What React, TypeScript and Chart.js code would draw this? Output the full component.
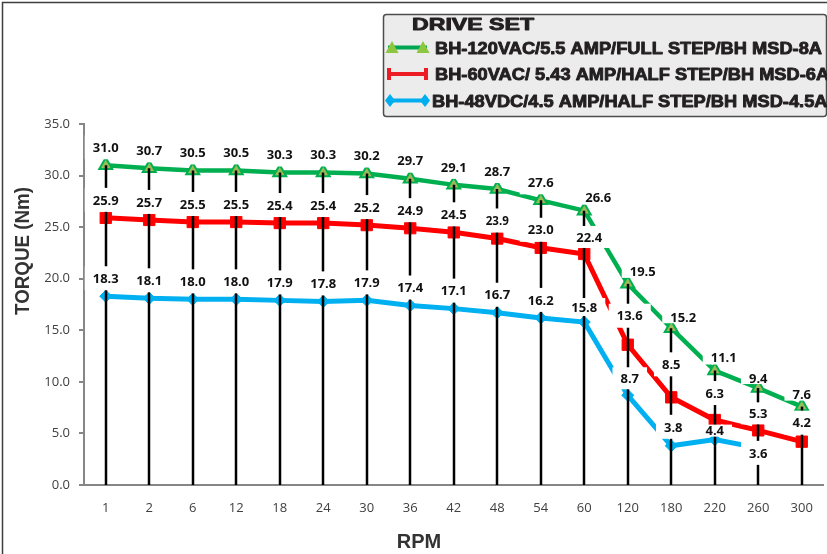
import React, { useEffect, useRef } from 'react';
import { Chart, registerables } from 'chart.js';

Chart.register(...registerables);

// ---------- data ----------
const rpmLabels = ['1', '2', '6', '12', '18', '24', '30', '36', '42', '48', '54', '60', '120', '180', '220', '260', '300'];
const ac120Torque = [31.0, 30.7, 30.5, 30.5, 30.3, 30.3, 30.2, 29.7, 29.1, 28.7, 27.6, 26.6, 19.5, 15.2, 11.1, 9.4, 7.6];
const ac60Torque = [25.9, 25.7, 25.5, 25.5, 25.4, 25.4, 25.2, 24.9, 24.5, 23.9, 23.0, 22.4, 13.6, 8.5, 6.3, 5.3, 4.2];
const dc48Torque = [18.3, 18.1, 18.0, 18.0, 17.9, 17.8, 17.9, 17.4, 17.1, 16.7, 16.2, 15.8, 8.7, 3.8, 4.4, 3.6, null];
const seriesNames = [
  'BH-120VAC/5.5 AMP/FULL STEP/BH MSD-8A',
  'BH-60VAC/ 5.43 AMP/HALF STEP/BH MSD-6A',
  'BH-48VDC/4.5 AMP/HALF STEP/BH MSD-4.5A',
];
const legendTitle = 'DRIVE SET';
const xTitle = 'RPM';
const yTitle = 'TORQUE (Nm)';
const yMin = 0;
const yMax = 35;
const yStep = 5;

// ---------- styling ----------
const lineColors = ['#00b050', '#ff0000', '#00b0f0'];
const legendColors = ['#00a650', '#ed1c24', '#00aeef'];
const DEFAULT_LABEL_DY = -18;
const labelNudges: Record<string, { dx?: number; dy?: number; size?: number }> = {
  '0-11': { dx: 14, dy: -13 },
  '0-12': { dx: 15, dy: -13 },
  '0-13': { dx: 12, dy: -11 },
  '0-14': { dx: 9, dy: -13 },
  '0-15': { dy: -10 },
  '0-16': { dy: -12 },
  '1-9': { size: 11.5 },
  '1-11': { dx: 5, dy: -17 },
  '1-12': { dx: 2, dy: -29 },
  '1-13': { dy: -33 },
  '1-14': { dy: -27 },
  '1-15': { dy: -17 },
  '1-16': { dy: -19 },
  '2-11': { dy: -15 },
  '2-12': { dx: 2, dy: -17 },
  '2-13': { dx: 2, dy: -19 },
  '2-14': { dy: -9 },
  '2-15': { dy: 5 },
};

function stretchText(ctx: CanvasRenderingContext2D, text: string, x: number, y: number, sx: number) {
  ctx.save();
  ctx.translate(x, y);
  ctx.scale(sx, 1);
  ctx.strokeText(text, 0, 0);
  ctx.fillText(text, 0, 0);
  ctx.restore();
}

const decorPlugin = {
  id: 'decor',
  beforeDraw(chart: any) {
    const { ctx, width, height } = chart;
    ctx.save();
    ctx.fillStyle = '#ffffff';
    ctx.fillRect(0, 0, width, height);
    ctx.strokeStyle = '#3f3f3f';
    ctx.lineWidth = 1.5;
    ctx.beginPath();
    ctx.moveTo(2.5, height + 2);
    ctx.lineTo(2.5, 2.5);
    ctx.lineTo(width + 2, 2.5);
    ctx.stroke();
    ctx.restore();
  },
  afterDatasetsDraw(chart: any) {
    const { ctx } = chart;
    const yScale = chart.scales.y;
    const datasets = chart.data.datasets;
    const base = yScale.getPixelForValue(0);
    // drop lines from highest value to axis
    ctx.save();
    ctx.strokeStyle = '#000000';
    ctx.lineWidth = 2.5;
    for (let j = 0; j < rpmLabels.length; j++) {
      let top = Infinity;
      let x = 0;
      datasets.forEach((ds: any, i: number) => {
        const v = ds.data[j];
        if (v === null || v === undefined) return;
        const el = chart.getDatasetMeta(i).data[j];
        if (el.y < top) { top = el.y; x = el.x; }
      });
      if (top === Infinity) continue;
      ctx.beginPath();
      ctx.moveTo(Math.round(x), top);
      ctx.lineTo(Math.round(x), base);
      ctx.stroke();
    }
    ctx.restore();
    // value labels with white boxes
    ctx.save();
    ctx.textAlign = 'center';
    ctx.textBaseline = 'middle';
    datasets.forEach((ds: any, i: number) => {
      const meta = chart.getDatasetMeta(i);
      ds.data.forEach((v: any, j: number) => {
        if (v === null || v === undefined) return;
        const el = meta.data[j];
        const n = labelNudges[`${i}-${j}`] || {};
        const size = n.size ?? 13;
        const dy = n.dy ?? DEFAULT_LABEL_DY;
        const cx = el.x + (n.dx ?? 0);
        const cy = el.y + dy;
        const txt = Number(v).toFixed(1);
        ctx.font = `bold ${size}px "Open Sans"`;
        const tw = ctx.measureText(txt).width;
        const halfH = dy < 0 ? Math.max(6, Math.min(12, -dy - 6)) : 12;
        ctx.fillStyle = '#ffffff';
        ctx.fillRect(cx - tw / 2 - 8, cy - halfH, tw + 16, halfH * 2);
        ctx.fillStyle = '#111111';
        ctx.fillText(txt, cx, cy + 1);
      });
    });
    ctx.restore();
  },
  afterDraw(chart: any) {
    const { ctx } = chart;
    ctx.save();
    // axis titles
    ctx.fillStyle = '#333333';
    ctx.font = 'bold 20px "Liberation Sans"';
    ctx.textBaseline = 'middle';
    ctx.textAlign = 'center';
    ctx.save();
    ctx.translate(23, 251);
    ctx.rotate(-Math.PI / 2);
    const yw = ctx.measureText(yTitle).width;
    ctx.scale(128 / yw, 1);
    ctx.fillText(yTitle, 0, 0);
    ctx.restore();
    ctx.textBaseline = 'alphabetic';
    ctx.fillText(xTitle, 419, 548);

    // legend box
    const bx = 383.5, by = 14.5, bw = 443, bh = 102;
    ctx.beginPath();
    ctx.roundRect(bx, by, bw, bh, 3);
    ctx.fillStyle = '#ececec';
    ctx.fill();
    ctx.strokeStyle = '#4d4d4d';
    ctx.lineWidth = 1.5;
    ctx.stroke();

    ctx.fillStyle = '#231f20';
    ctx.strokeStyle = '#231f20';
    ctx.lineWidth = 0.9;
    ctx.lineJoin = 'round';
    ctx.textAlign = 'left';
    ctx.textBaseline = 'alphabetic';
    ctx.font = 'bold 17px "Liberation Sans"';
    const tw = ctx.measureText(legendTitle).width;
    stretchText(ctx, legendTitle, 412, 30, 122 / tw);
    const w0 = ctx.measureText(seriesNames[0]).width;
    const sx = 387 / w0;
    const rowY = [47.5, 74, 100.5];
    const textX = [435, 435, 432];
    seriesNames.forEach((name, i) => {
      stretchText(ctx, name, textX[i], rowY[i] + 6, sx);
    });

    // legend markers
    ctx.strokeStyle = legendColors[0];
    ctx.lineWidth = 4;
    ctx.beginPath();
    ctx.moveTo(388, rowY[0]);
    ctx.lineTo(427, rowY[0]);
    ctx.stroke();
    ctx.fillStyle = '#8dc63f';
    [392, 423].forEach((cx) => {
      ctx.beginPath();
      ctx.moveTo(cx, rowY[0] - 6.5);
      ctx.lineTo(cx + 6.5, rowY[0] + 5.5);
      ctx.lineTo(cx - 6.5, rowY[0] + 5.5);
      ctx.closePath();
      ctx.fill();
    });
    ctx.strokeStyle = legendColors[1];
    ctx.fillStyle = legendColors[1];
    ctx.beginPath();
    ctx.moveTo(388, rowY[1]);
    ctx.lineTo(427, rowY[1]);
    ctx.stroke();
    ctx.fillRect(387, rowY[1] - 6, 4, 12);
    ctx.fillRect(424, rowY[1] - 6, 4, 12);
    ctx.strokeStyle = legendColors[2];
    ctx.fillStyle = legendColors[2];
    ctx.beginPath();
    ctx.moveTo(388, rowY[2]);
    ctx.lineTo(427, rowY[2]);
    ctx.stroke();
    [390, 425].forEach((cx) => {
      ctx.beginPath();
      ctx.moveTo(cx, rowY[2] - 6.5);
      ctx.lineTo(cx + 5, rowY[2]);
      ctx.lineTo(cx, rowY[2] + 6.5);
      ctx.lineTo(cx - 5, rowY[2]);
      ctx.closePath();
      ctx.fill();
    });
    ctx.restore();
  },
};

export default function App() {
  const canvasRef = useRef<HTMLCanvasElement | null>(null);

  useEffect(() => {
    document.body.style.margin = '0';
    const canvas = canvasRef.current;
    if (!canvas) return;
    const tickFont = { family: '"Open Sans"', size: 13 };
    const chart = new Chart(canvas, {
      type: 'line',
      data: {
        labels: rpmLabels,
        datasets: [
          {
            label: seriesNames[0],
            data: ac120Torque,
            borderColor: lineColors[0],
            borderWidth: 4.5,
            pointStyle: 'triangle',
            pointRadius: 7.5,
            pointBackgroundColor: '#9bbb59',
            pointBorderColor: lineColors[0],
            pointBorderWidth: 2,
            tension: 0,
            clip: 20,
          },
          {
            label: seriesNames[1],
            data: ac60Torque,
            borderColor: lineColors[1],
            borderWidth: 5,
            pointStyle: 'rect',
            pointRadius: 8,
            pointBackgroundColor: lineColors[1],
            pointBorderColor: lineColors[1],
            pointBorderWidth: 1,
            tension: 0,
            clip: 20,
          },
          {
            label: seriesNames[2],
            data: dc48Torque,
            borderColor: lineColors[2],
            borderWidth: 5,
            pointStyle: 'rectRot',
            pointRadius: 6,
            pointBackgroundColor: lineColors[2],
            pointBorderColor: lineColors[2],
            pointBorderWidth: 1,
            tension: 0,
            spanGaps: false,
            clip: 20,
          },
        ],
      },
      options: {
        responsive: false,
        animation: false,
        devicePixelRatio: 1,
        layout: { autoPadding: false, padding: { top: 124, right: 3.5, bottom: 0, left: 0 } },
        plugins: {
          legend: { display: false },
          tooltip: { enabled: false },
          title: { display: false },
        },
        scales: {
          x: {
            offset: true,
            grid: { display: false, drawTicks: false },
            border: { display: true, color: '#868686', width: 2 },
            ticks: { color: '#404040', font: tickFont, padding: 15, maxRotation: 0, autoSkip: false },
            afterFit: (s: any) => { s.height = 69; s.paddingLeft = 0; s.paddingRight = 0; },
          },
          y: {
            min: yMin,
            max: yMax,
            ticks: {
              stepSize: yStep,
              color: '#404040',
              font: tickFont,
              padding: 9,
              callback: (v: any) => Number(v).toFixed(1),
            },
            grid: { drawOnChartArea: false, drawTicks: true, tickLength: 5, color: '#868686', lineWidth: 2 },
            border: { display: true, color: '#868686', width: 2 },
            afterFit: (s: any) => { s.width = 84; s.paddingTop = 0; s.paddingBottom = 0; },
          },
        },
      },
      plugins: [decorPlugin],
    });
    return () => chart.destroy();
  }, []);

  return <canvas ref={canvasRef} width={827} height={554} style={{ display: 'block' }} />;
}
